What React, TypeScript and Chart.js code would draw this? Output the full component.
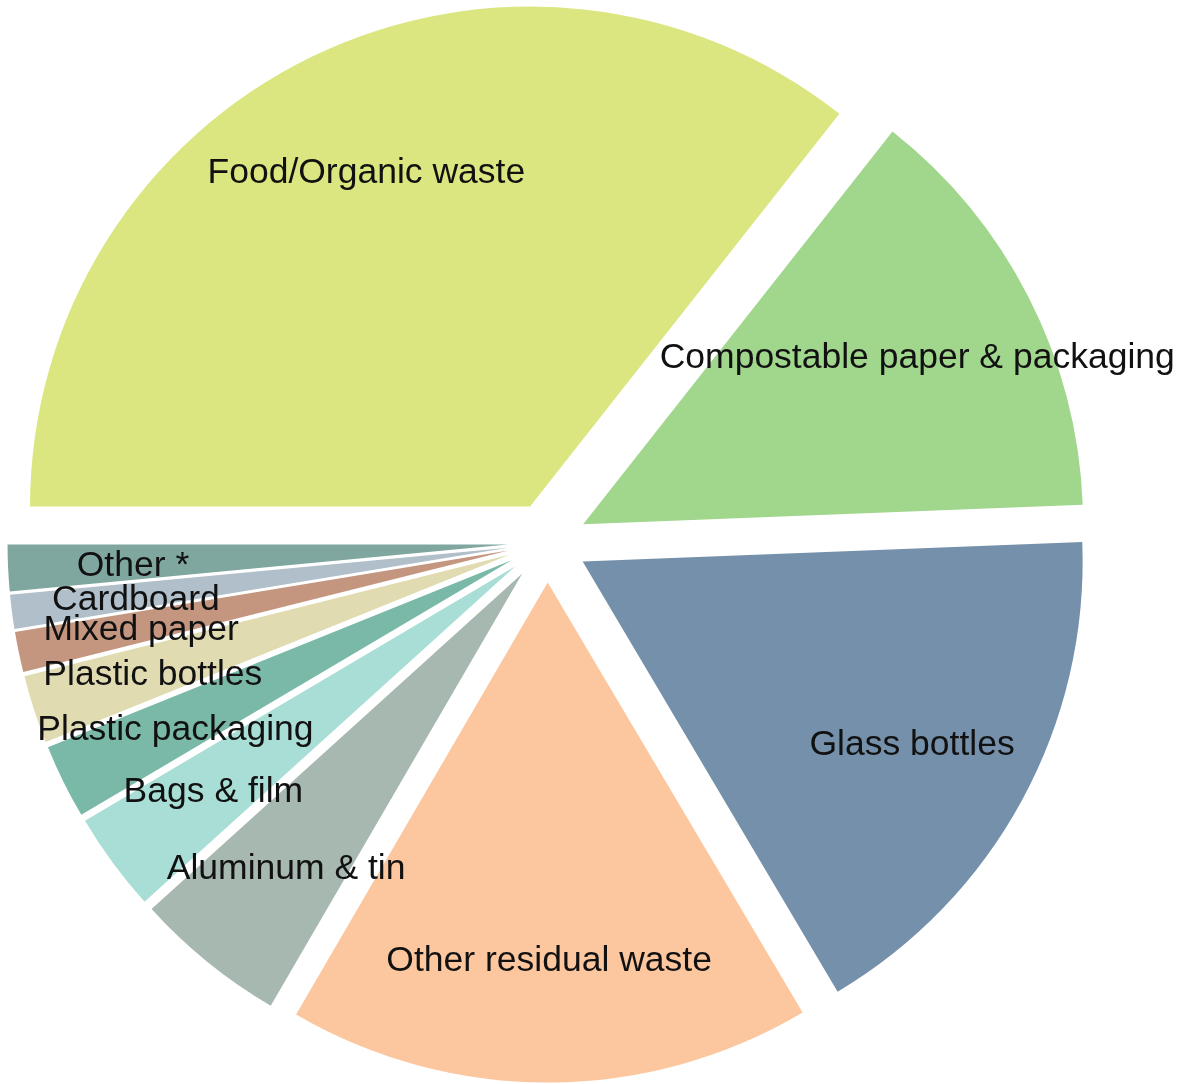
import React, { useEffect, useRef } from "react";
import { Chart, registerables } from "chart.js";

Chart.register(...registerables);

const categories = [
  "Food/Organic waste",
  "Compostable paper & packaging",
  "Glass bottles",
  "Other residual waste",
  "Aluminum & tin",
  "Bags & film",
  "Plastic packaging",
  "Plastic bottles",
  "Mixed paper",
  "Cardboard",
  "Other *",
];

const shares = [35.6, 13.75, 17.1, 16.9, 4.9, 3.2, 2.4, 2.2, 1.3, 1.1, 1.5];

const sliceColors = [
  "#dce680",
  "#a1d68d",
  "#7590aa",
  "#fcc79f",
  "#a6b8b0",
  "#a8ded6",
  "#7ab9a8",
  "#e0dbb1",
  "#c49680",
  "#b0bfc9",
  "#7fa79f",
];

const EXPLODE = 40;
const FONT_SIZE = 35.5;

const explodePlugin = {
  id: "explodeSlices",
  afterDatasetUpdate(chart: any, args: any) {
    const meta = args.meta;
    meta.data.forEach((arc: any) => {
      const mid = (arc.startAngle + arc.endAngle) / 2;
      arc.x = arc.x + Math.cos(mid) * EXPLODE;
      arc.y = arc.y + Math.sin(mid) * EXPLODE;
    });
  },
};

const labelPlugin = {
  id: "sliceLabels",
  afterDatasetsDraw(chart: any) {
    const ctx = chart.ctx;
    const meta = chart.getDatasetMeta(0);
    ctx.save();
    ctx.font = FONT_SIZE + 'px "Liberation Sans", Arial, sans-serif';
    ctx.fillStyle = "#111111";
    ctx.textAlign = "center";
    ctx.textBaseline = "alphabetic";
    meta.data.forEach((arc: any, i: number) => {
      const mid = (arc.startAngle + arc.endAngle) / 2;
      const r = arc.outerRadius * 0.75;
      ctx.fillText(
        categories[i],
        arc.x + Math.cos(mid) * r,
        arc.y + Math.sin(mid) * r + FONT_SIZE * 0.36 + 1
      );
    });
    ctx.restore();
  },
};

export default function App() {
  const canvasRef = useRef<HTMLCanvasElement | null>(null);

  useEffect(() => {
    if (!canvasRef.current) return;
    const chart = new Chart(canvasRef.current, {
      type: "pie",
      data: {
        labels: categories,
        datasets: [
          {
            data: shares,
            backgroundColor: sliceColors,
            borderWidth: 0,
          },
        ],
      },
      options: {
        animation: false,
        responsive: false,
        devicePixelRatio: 1,
        rotation: 270,
        layout: {
          padding: { left: 47.5, top: 42.5, right: 131.5, bottom: 41.5 },
        },
        plugins: {
          legend: { display: false },
          tooltip: { enabled: false },
        },
      },
      plugins: [explodePlugin, labelPlugin],
    });
    return () => chart.destroy();
  }, []);

  return (
    <div
      style={{
        position: "absolute",
        left: 0,
        top: 0,
        width: 1179,
        height: 1084,
        background: "#ffffff",
      }}
    >
      <canvas ref={canvasRef} width={1179} height={1084} />
    </div>
  );
}
